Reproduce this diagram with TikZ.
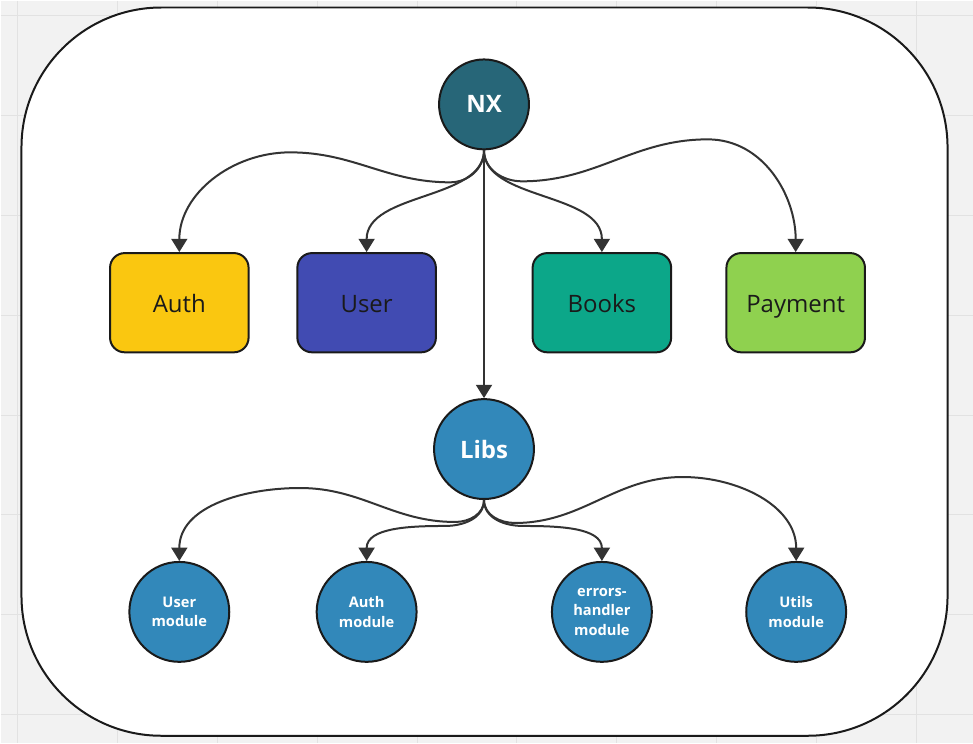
\documentclass[tikz,border=0pt]{standalone}
\usepackage{fontspec}
\setmainfont{Open Sans}
\usetikzlibrary{arrows.meta, positioning}

\definecolor{canvas}{HTML}{F2F2F2}
\definecolor{gridgray}{HTML}{E2E2E2}
\definecolor{inkdark}{HTML}{1A1A1A}
\definecolor{linkgray}{HTML}{333333}
\definecolor{nxteal}{HTML}{276678}
\definecolor{libblue}{HTML}{3288BA}
\definecolor{authyellow}{HTML}{FAC710}
\definecolor{userindigo}{HTML}{414BB2}
\definecolor{bookgreen}{HTML}{0CA789}
\definecolor{paylime}{HTML}{8FD14F}

\tikzset{
	gridline/.style={draw=gridgray, line width=0.75pt},
	frame/.style={draw=inkdark, fill=white, line width=1.5pt, rounded corners=105pt},
	appbox/.style={draw=inkdark, line width=1.5pt, rounded corners=11pt, minimum width=104pt, minimum height=74.5pt, text height=15pt, text depth=0pt, text=inkdark, font=\fontsize{18}{22}\selectfont},
	hub/.style={circle, draw=inkdark, line width=1.5pt, text=white, inner sep=0pt, font=\bfseries\fontsize{18}{22}\selectfont},
	libmod/.style={circle, draw=inkdark, line width=1.5pt, fill=libblue, text=white, minimum size=75pt, inner sep=0pt, align=center, font=\bfseries\fontsize{11}{14.5}\selectfont},
	link/.style={draw=linkgray, line width=1.5pt, -{Triangle[width=12pt,length=10pt]}},
}

\begin{document}
\begin{tikzpicture}[x=0.75pt, y=0.75pt]
	% background grid
	\fill[canvas] (0,0) rectangle (973,-743);
	\foreach \gx in {17,117,...,917} \draw[gridline] (\gx,0) -- (\gx,-743);
	\foreach \gy in {15,115,...,715} \draw[gridline] (0,-\gy) -- (973,-\gy);
	\useasboundingbox (0,0) rectangle (973,-743);

	\draw[frame] (21,-7) rectangle (948,-736);

	% top level
	\node[hub, fill=nxteal, minimum size=67.5pt] (nx) at (484,-104) {NX};

	\node[appbox, fill=authyellow]  (auth)    at (179,-302.5)   {Auth};
	\node[appbox, fill=userindigo]  (user)    at (366.5,-302.5) {User};
	\node[appbox, fill=bookgreen]   (books)   at (602,-302.5)   {Books};
	\node[appbox, fill=paylime]     (payment) at (796,-302.5)   {Payment};

	% libraries
	\node[hub, fill=libblue, minimum size=75pt] (libs) at (484,-449) {Libs};

	\node[libmod] (usermod) at (179,-612)   {User\\module};
	\node[libmod] (authmod) at (366.5,-612) {Auth\\module};
	\node[libmod] (errmod)  at (602,-612)   {errors-\\handler\\module};
	\node[libmod] (utilmod) at (796.5,-612) {Utils\\module};

	\draw[link] (nx.south) to[out=-90,in=0] (450,-182) to[out=180,in=0] (290,-152) to[out=180,in=90] (auth.north);
	\draw[link] (nx.south) .. controls +(0,-50) and +(0,60) .. (user.north);
	\draw[link] (nx.south) .. controls +(0,-50) and +(0,60) .. (books.north);
	\draw[link] (nx.south) to[out=-90,in=180] (522,-181) to[out=0,in=180] (708,-139) to[out=0,in=90] (payment.north);
	\draw[link] (nx.south) -- (libs.north);

	\draw[link] (libs.south) to[out=-90,in=0] (455,-522) to[out=180,in=0] (300,-488) to[out=180,in=90] (usermod.north);
	\draw[link] (libs.south) to[out=-90,in=0] (445,-526) to[out=180,in=90] (authmod.north);
	\draw[link] (libs.south) to[out=-90,in=180] (523,-526) to[out=0,in=90] (errmod.north);
	\draw[link] (libs.south) to[out=-90,in=180] (515,-523) to[out=0,in=180] (683,-477) to[out=0,in=90] (utilmod.north);

\end{tikzpicture}
\end{document}
